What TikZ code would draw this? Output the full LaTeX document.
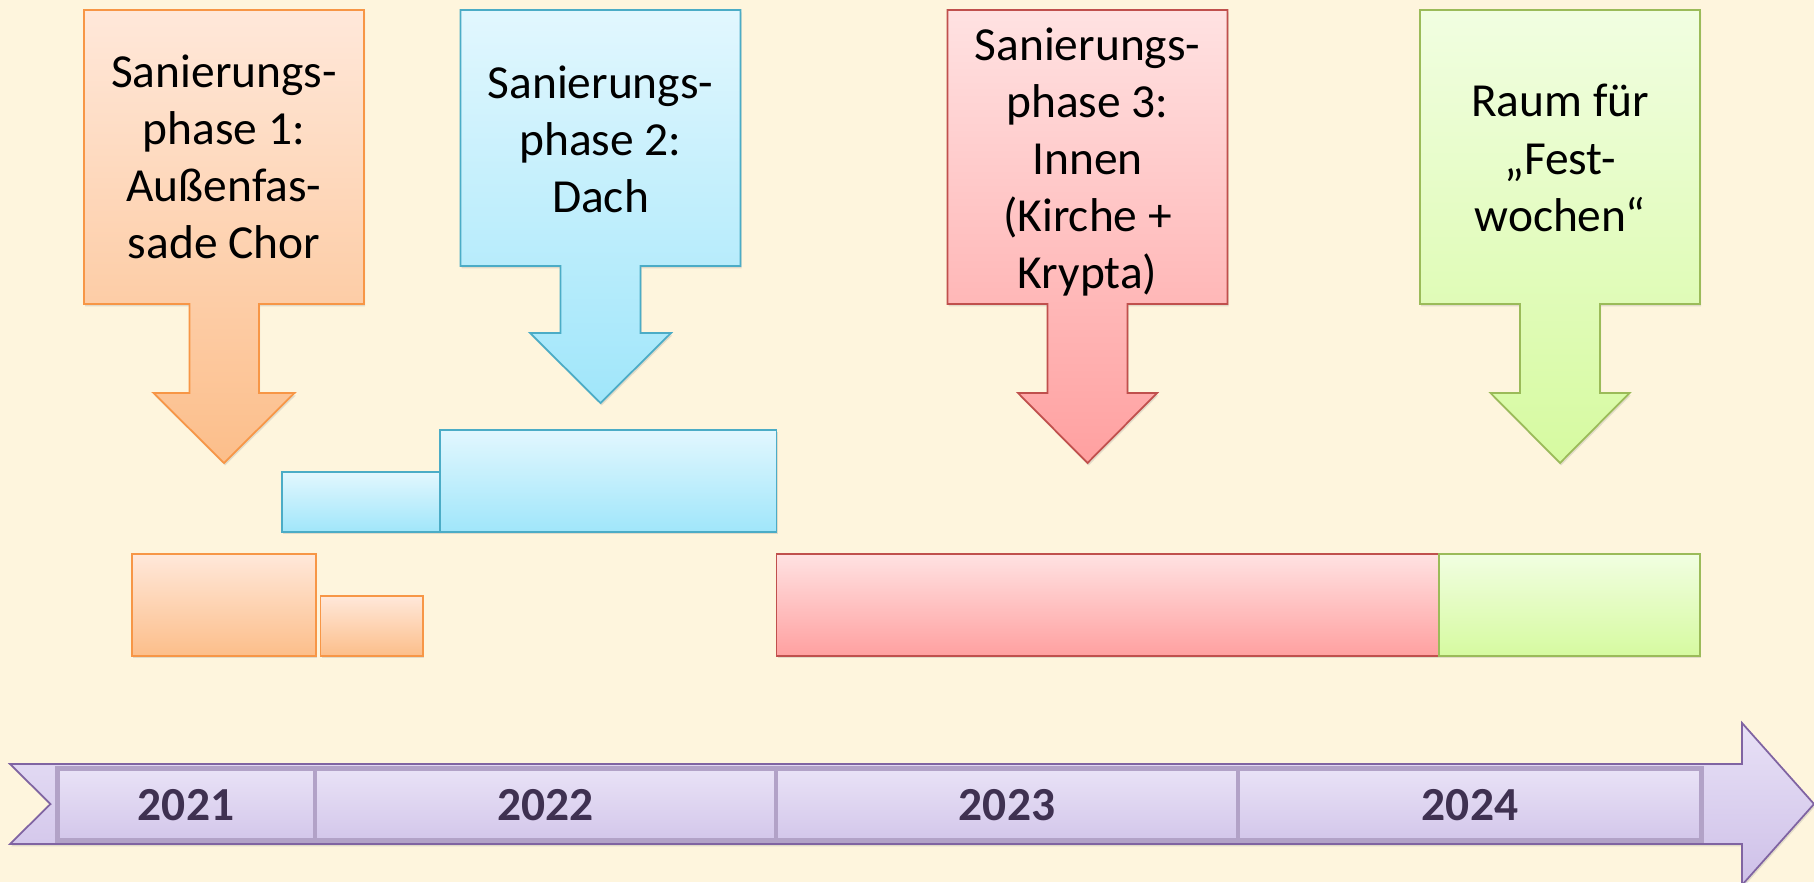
\documentclass[tikz,border=0pt]{standalone}
\usepackage{fontspec}
\setmainfont{Carlito}
\usepackage{tikz}
\usetikzlibrary{shadows}
\definecolor{bgcream}{RGB}{254,245,221}
\definecolor{orline}{RGB}{247,150,70}
\definecolor{ortop}{RGB}{255,232,218}
\definecolor{orbot}{RGB}{252,190,138}
\definecolor{blline}{RGB}{75,172,198}
\definecolor{bltop}{RGB}{226,247,254}
\definecolor{blbot}{RGB}{160,230,250}
\definecolor{rdline}{RGB}{192,80,77}
\definecolor{rdtop}{RGB}{255,226,226}
\definecolor{rdbot}{RGB}{255,160,160}
\definecolor{grline}{RGB}{155,187,89}
\definecolor{grtop}{RGB}{241,254,225}
\definecolor{grbot}{RGB}{214,250,160}
\definecolor{puline}{RGB}{128,100,162}
\definecolor{putop}{RGB}{232,225,246}
\definecolor{pubot}{RGB}{206,192,232}
\definecolor{puframe}{RGB}{178,162,199}
\definecolor{yeartext}{RGB}{63,49,81}
\tikzstyle{shade} = [drop shadow={opacity=0.22, shadow xshift=0.6pt, shadow yshift=-1.4pt}]
\tikzstyle{phaseone} = [draw=orline, line width=1pt, top color=ortop, bottom color=orbot, shade]
\tikzstyle{phasetwo} = [draw=blline, line width=1pt, top color=bltop, bottom color=blbot, shade]
\tikzstyle{phasethree} = [draw=rdline, line width=1pt, top color=rdtop, bottom color=rdbot, shade]
\tikzstyle{festphase} = [draw=grline, line width=1pt, top color=grtop, bottom color=grbot, shade]
\tikzstyle{ctext} = [align=center, inner sep=0pt, font=\fontsize{27}{32.5}\selectfont]
\tikzstyle{yearcell} = [draw=puframe, line width=2.6pt, top color=putop!95!white, bottom color=pubot!90!white]
\tikzstyle{year} = [inner sep=0pt, text=yeartext, font=\fontsize{27}{32}\selectfont\bfseries]

\begin{document}
\begin{tikzpicture}[x=0.02cm, y=-0.02cm]
	\useasboundingbox (0,0) rectangle (1814,882);
	\fill [bgcream] (0,0) rectangle (1814,882);

	% callouts
	\path [phaseone] (84,10) -- (364,10) -- (364,304) -- (259,304) -- (259,393) -- (294.5,393)
		-- (224,463) -- (153.5,393) -- (189.5,393) -- (189.5,304) -- (84,304) -- cycle;
	\path [phasetwo] (460.5,10) -- (740.5,10) -- (740.5,266) -- (640.5,266) -- (640.5,333) -- (671,333)
		-- (600.5,403) -- (530,333) -- (560.5,333) -- (560.5,266) -- (460.5,266) -- cycle;
	\path [phasethree] (947.5,10) -- (1227.5,10) -- (1227.5,304) -- (1127.5,304) -- (1127.5,393) -- (1157,393)
		-- (1087.5,463) -- (1018,393) -- (1047.5,393) -- (1047.5,304) -- (947.5,304) -- cycle;
	\path [festphase] (1420,10) -- (1700,10) -- (1700,304) -- (1600,304) -- (1600,393) -- (1629.5,393)
		-- (1560,463) -- (1490.5,393) -- (1520,393) -- (1520,304) -- (1420,304) -- cycle;

	\node [ctext] (p1) at (224,157) {Sanierungs-\\phase 1:\\Außenfas-\\sade Chor};
	\node [ctext] (p2) at (600.5,139) {Sanierungs-\\phase 2:\\Dach};
	\node [ctext] (p3) at (1087.5,162) {Sanierungs-\\phase 3:\\Innen\\(Kirche +\\Krypta)};
	\node [ctext] (fw) at (1560,158) {Raum für\\„Fest-\\wochen“};

	% bars
	\path [phasetwo] (282,472) rectangle (440,532);
	\path [phasetwo] (440,430) rectangle (776.5,532);
	\path [phaseone] (132,554) rectangle (316,656);
	\path [phaseone] (320.5,596) rectangle (423,656);
	\path [phasethree] (776.5,554) rectangle (1439,656);
	\path [festphase] (1439,554) rectangle (1700,656);

	% timeline
	\path [draw=puline, line width=1pt, top color=putop, bottom color=pubot, shade]
		(10,764) -- (1742,764) -- (1742,723) -- (1814,804) -- (1742,885) -- (1742,844)
		-- (10,844) -- (50.5,804) -- cycle;
	\path [yearcell] (57.5,768.5) rectangle (315,840.5);
	\path [yearcell] (315,768.5) rectangle (776,840.5);
	\path [yearcell] (776,768.5) rectangle (1238,840.5);
	\path [yearcell] (1238,768.5) rectangle (1701.5,840.5);

	\node [year] (y21) at (186,805) {2021};
	\node [year] (y22) at (545.5,805) {2022};
	\node [year] (y23) at (1007,805) {2023};
	\node [year] (y24) at (1470,805) {2024};
\end{tikzpicture}
\end{document}
